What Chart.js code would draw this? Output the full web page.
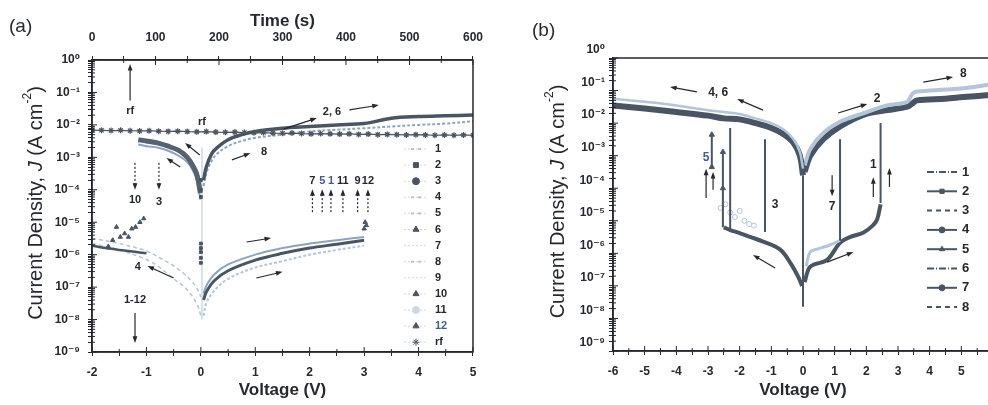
<!DOCTYPE html>
<html lang="en">
<head>
<meta charset="UTF-8">
<title>Current density vs voltage</title>
<script src="https://cdn.jsdelivr.net/npm/chart.js"></script>
<style>
  html, body { margin: 0; padding: 0; background: #fff; }
  #fig { position: relative; width: 988px; height: 405px; overflow: hidden; }
  canvas { position: absolute; top: 0; }
  #cA { left: 0; }
  #cB { left: 494px; }
  .panel { position: absolute; font: 19px "Liberation Sans", Arial, sans-serif; color: #26292f; }
</style>
</head>
<body>
<div id="fig">
  <canvas id="cA" width="494" height="405"></canvas>
  <canvas id="cB" width="520" height="405"></canvas>
  <div class="panel" style="left:9px; top:15px">(a)</div>
  <div class="panel" style="left:532px; top:19px">(b)</div>
</div>
<script>
// ---- axis ticks ----
const yDecades = [-9, -8, -7, -6, -5, -4, -3, -2, -1, 0];
const yMinor = [1, 2, 3, 4, 5, 6, 7, 8, 9];
const aVoltTicks = [-2, -1, 0, 1, 2, 3, 4, 5];
const aTimeTicks = [0, 100, 200, 300, 400, 500, 600];
const bVoltTicks = [-6, -5, -4, -3, -2, -1, 0, 1, 2, 3, 4, 5, 6];

// ---- panel (a): V in volts, J in A/cm2 ----
const aRfTime = [0, 15, 30, 45, 60, 75, 90, 105, 120, 135, 150, 165, 180, 195, 210, 225, 240, 255, 270, 285, 300,
  315, 330, 345, 360, 375, 390, 405, 420, 435, 450, 465, 480, 495, 510, 525, 540, 555, 570, 585, 600];
const aRfJ = [6.9e-3, 6.8e-3, 6.7e-3, 6.8e-3, 6.6e-3, 6.5e-3, 6.6e-3, 6.4e-3, 6.3e-3, 6.4e-3,
  6.2e-3, 6.1e-3, 6.2e-3, 6.0e-3, 5.9e-3, 6.0e-3, 5.8e-3, 5.7e-3, 5.8e-3, 5.6e-3,
  5.5e-3, 5.6e-3, 5.4e-3, 5.3e-3, 5.4e-3, 5.3e-3, 5.2e-3, 5.3e-3, 5.1e-3, 5.2e-3,
  5.0e-3, 5.1e-3, 5.0e-3, 4.9e-3, 5.0e-3, 4.9e-3, 4.8e-3, 4.9e-3, 4.8e-3, 4.9e-3, 4.8e-3];

const aLrsPosV = [0.05, 0.1, 0.2, 0.3, 0.5, 0.75, 1, 1.5, 2, 2.5, 3, 3.5, 4, 4.5, 5];
const aLrsPosJ = [2.0e-4, 5.0e-4, 1.3e-3, 2.0e-3, 3.5e-3, 5.0e-3, 6.3e-3, 7.9e-3, 8.9e-3, 1.0e-2, 1.1e-2, 1.6e-2, 1.8e-2, 1.9e-2, 2.0e-2];
const aLrs8J = [1.3e-4, 3.2e-4, 7.9e-4, 1.3e-3, 2.2e-3, 3.2e-3, 4.0e-3, 5.0e-3, 6.3e-3, 7.1e-3, 7.9e-3, 8.9e-3, 1.0e-2, 1.1e-2, 1.3e-2];

const aLrsNegV = [-1.15, -1.0, -0.8, -0.6, -0.4, -0.25, -0.15, -0.08, -0.04, -0.01];
const aLrsNegJ = [3.5e-3, 3.2e-3, 2.8e-3, 2.2e-3, 1.6e-3, 1.0e-3, 5.6e-4, 3.2e-4, 1.6e-4, 7.9e-5];
const aLrsNegJ2 = [2.5e-3, 2.2e-3, 2.0e-3, 1.6e-3, 1.1e-3, 7.1e-4, 4.0e-4, 2.2e-4, 1.1e-4, 5.0e-5];

const aHrsNegV = [-2, -1.5, -1, -0.75, -0.5, -0.3, -0.15, -0.05, 0];
const aHrsNegUpJ = [3.2e-6, 2.2e-6, 1.3e-6, 7.9e-7, 4.5e-7, 2.5e-7, 1.4e-7, 7.9e-8, 5.0e-8];
const aHrsNegLowJ = [2.2e-6, 1.4e-6, 7.1e-7, 4.0e-7, 1.8e-7, 1.0e-7, 5.0e-8, 2.5e-8, 1.3e-8];
const aHrsNegDarkV = [-2, -1.75, -1.5, -1.25, -1.0];
const aHrsNegDarkJ = [1.9e-6, 1.6e-6, 1.4e-6, 1.25e-6, 1.1e-6];

const aHrsPosV = [0.05, 0.1, 0.25, 0.5, 1, 1.5, 2, 2.5, 3];
const aHrsPosJ = [4.0e-8, 7.1e-8, 1.6e-7, 3.2e-7, 6.8e-7, 1.1e-6, 1.6e-6, 2.1e-6, 2.8e-6];
const aHrsPosUpJ = [6.3e-8, 1.1e-7, 2.5e-7, 5.0e-7, 1.0e-6, 1.6e-6, 2.2e-6, 2.8e-6, 3.5e-6];
const aHrsPosLowJ = [1.3e-8, 3.2e-8, 7.9e-8, 1.8e-7, 4.0e-7, 6.3e-7, 1.0e-6, 1.4e-6, 1.9e-6];

const aDipV = [0, 0, 0, 0, 0, 0, 0, 0];
const aDipJ = [2.0e-4, 1.0e-4, 6.0e-5, 2.2e-6, 1.6e-6, 1.2e-6, 8.0e-7, 5.6e-7];
const aDipLineV = [0.02, 0.02];
const aDipLineJ = [2.0e-3, 1.0e-8];

const aSetV = [-1.7, -1.62, -1.55, -1.48, -1.4, -1.33, -1.27, -1.2, -1.12, -1.05];
const aSetJ = [1.8e-6, 2.8e-6, 7.1e-6, 3.5e-6, 4.5e-6, 3.5e-6, 6.3e-6, 7.1e-6, 1.0e-5, 1.3e-5];
const aResetV = [3.0, 3.02, 3.04];
const aResetJ = [6.3e-6, 1.0e-5, 8.0e-6];

const aLegend = ['1', '2', '3', '4', '5', '6', '7', '8', '9', '10', '11', '12', 'rf'];

// ---- panel (b) ----
const bLrsNegV = [-6, -5, -4, -3, -2.5, -2, -1.5, -1, -0.6, -0.3, -0.1, 0];
const bLrsNegJ = [3.5e-2, 2.8e-2, 2.2e-2, 1.7e-2, 1.4e-2, 1.3e-2, 1.0e-2, 7.1e-3, 4.5e-3, 2.5e-3, 1.0e-3, 2.5e-4];
const bLrsNegJ2 = [5.6e-2, 4.5e-2, 3.5e-2, 2.5e-2, 2.2e-2, 1.9e-2, 1.4e-2, 1.0e-2, 6.3e-3, 3.2e-3, 1.3e-3, 4.0e-4];

const bLrsPosV = [0.05, 0.23, 0.64, 1.17, 1.9, 2.66, 3.29, 3.45, 3.6, 4.5, 5.06, 5.8, 6];
const bLrsPosJ = [3.2e-4, 1.0e-3, 3.2e-3, 7.9e-3, 1.8e-2, 2.5e-2, 3.2e-2, 4.0e-2, 5.0e-2, 5.6e-2, 6.3e-2, 7.2e-2, 7.6e-2];
const bLrsPosJ2 = [5.0e-4, 1.6e-3, 5.0e-3, 1.1e-2, 2.0e-2, 3.5e-2, 4.5e-2, 7.9e-2, 9.3e-2, 0.107, 0.117, 0.148, 0.158];

const bHrsNegV = [-2.5, -2.3, -2, -1.67, -1.26, -0.72, -0.4, -0.15, -0.03];
const bHrsNegJ = [6.3e-6, 5.2e-6, 4.2e-6, 3.2e-6, 2.3e-6, 1.3e-6, 5.1e-7, 1.9e-7, 1.0e-7];
const bHrsPosV = [0.05, 0.23, 0.76, 1.17, 1.5, 1.9, 2.2, 2.34, 2.45];
const bHrsPosJ = [1.3e-7, 3.9e-7, 6.3e-7, 2.1e-6, 3.2e-6, 4.3e-6, 7.1e-6, 1.1e-5, 3.2e-5];
const bHrsPos2V = [0.1, 0.23, 0.5, 0.85, 1.17];
const bHrsPos2J = [4.0e-7, 1.1e-6, 1.4e-6, 1.8e-6, 2.5e-6];
const bHrsNeg2V = [-2.6, -2.45, -2.3, -2.15, -2.0, -1.85, -1.7, -1.55];
const bHrsNeg2J = [2.5e-5, 3.2e-5, 1.8e-5, 1.3e-5, 2.0e-5, 1.0e-5, 7.9e-6, 7.1e-6];

const bJumpV = [-2.88, -2.53, -2.3, -1.2, 0, 1.17, 2.45];
const bJumpHiJ = [5.0e-3, 1.3e-3, 7.1e-3, 3.2e-3, 2.5e-4, 3.2e-3, 1.0e-2];
const bJumpLoJ = [4.0e-4, 6.3e-6, 5.0e-6, 4.5e-6, 2.3e-8, 2.5e-6, 3.5e-5];
const bTriV = [-2.88, -2.88, -2.53, -2.53];
const bTriJ = [4.4e-3, 4.5e-4, 1.3e-3, 1.0e-4];

const bLegend = ['1', '2', '3', '4', '5', '6', '7', '8'];

// ---- look ----
const FONT = '"Liberation Sans", Arial, "DejaVu Sans", sans-serif';
const INK = '#25282f';
const BLUE = '#3d5c97';
const DARK = '#4a5563';
const MID = '#8da3bf';
const LIGHT = '#b3c5da';
const PALE = '#cdd8e5';

Chart.defaults.font.family = FONT;
Chart.defaults.color = INK;
Chart.defaults.animation = false;

const SUP = { '-': '⁻', '0': '⁰', '1': '¹', '2': '²', '3': '³', '4': '⁴', '5': '⁵', '6': '⁶', '7': '⁷', '8': '⁸', '9': '⁹' };
function powLabel(v) {
  const e = Math.round(Math.log10(v));
  if (Math.abs(v / Math.pow(10, e) - 1) > 1e-6) return '';
  return '10' + String(e).split('').map(c => SUP[c]).join('');
}

const pts = (xs, ys) => xs.map((x, i) => ({ x: x, y: ys[i] }));

function curve(data, color, width, extra) {
  return Object.assign({ data: data, borderColor: color, backgroundColor: color, borderWidth: width,
    pointRadius: 0, showLine: true, tension: 0.35 }, extra || {});
}
function marks(data, color, style, r, extra) {
  return Object.assign({ data: data, borderColor: color, backgroundColor: color, pointStyle: style,
    pointRadius: r, borderWidth: 1, showLine: false }, extra || {});
}

function yScale(width, pad, shift) {
  return {
    type: 'logarithmic', min: 1e-9, max: 1,
    afterFit: s => { s.width = width; },
    afterBuildTicks: s => {
      const t = [];
      yDecades.forEach(e => yMinor.forEach(m => {
        const v = m * Math.pow(10, e);
        if (v <= 1.0000001) t.push({ value: v });
      }));
      s.ticks = t;
    },
    ticks: { autoSkip: false, padding: pad, labelOffset: shift, font: { size: 12, weight: 'bold' }, callback: v => powLabel(v) },
    grid: { drawOnChartArea: false, tickLength: 4, color: INK },
    border: { color: INK, width: 1.5 }
  };
}

function xScale(min, max, step, shown, position, height, pad, title, titlePad) {
  return {
    type: 'linear', position: position, min: min, max: max,
    afterFit: s => { s.height = height; },
    ticks: { stepSize: step, autoSkip: false, maxRotation: 0, padding: pad, font: { size: 12, weight: 'bold' },
      callback: v => shown.some(t => Math.abs(t - v) < 1e-9) ? String(v) : '' },
    grid: { drawOnChartArea: false, tickLength: 4, color: INK },
    border: { color: INK, width: 1.5 },
    title: { display: true, text: title, font: { size: 17, weight: 'bold' }, padding: titlePad }
  };
}

// box round the plot
const frame = {
  id: 'frame',
  afterDatasetsDraw(chart) {
    const { ctx, chartArea: a } = chart;
    ctx.save();
    ctx.strokeStyle = INK;
    ctx.lineWidth = 1.5;
    ctx.strokeRect(a.left, a.top, a.right - a.left, a.bottom - a.top);
    ctx.restore();
  }
};

// ticks pointing into the plot as well
const innerTicks = {
  id: 'innerTicks',
  afterDraw(chart) {
    const { ctx, chartArea: a, scales } = chart;
    ctx.save();
    ctx.strokeStyle = INK;
    ctx.lineWidth = 1;
    Object.values(scales).forEach(s => {
      s.ticks.forEach(t => {
        const p = s.getPixelForValue(t.value);
        const len = t.label ? 5 : 3;
        ctx.beginPath();
        if (s.axis === 'y') { ctx.moveTo(a.left, p); ctx.lineTo(a.left + len, p); }
        else if (s.position === 'top') { ctx.moveTo(p, a.top); ctx.lineTo(p, a.top + len); }
        else { ctx.moveTo(p, a.bottom); ctx.lineTo(p, a.bottom - len); }
        ctx.stroke();
      });
    });
    ctx.restore();
  }
};

function arrow(ctx, x1, y1, x2, y2, dotted) {
  const ang = Math.atan2(y2 - y1, x2 - x1);
  ctx.strokeStyle = INK;
  ctx.fillStyle = INK;
  ctx.lineWidth = 1.2;
  ctx.setLineDash(dotted ? [2, 2] : []);
  ctx.beginPath();
  ctx.moveTo(x1, y1);
  ctx.lineTo(x2 - 4 * Math.cos(ang), y2 - 4 * Math.sin(ang));
  ctx.stroke();
  ctx.setLineDash([]);
  ctx.beginPath();
  ctx.moveTo(x2, y2);
  ctx.lineTo(x2 - 7 * Math.cos(ang - 0.35), y2 - 7 * Math.sin(ang - 0.35));
  ctx.lineTo(x2 - 7 * Math.cos(ang + 0.35), y2 - 7 * Math.sin(ang + 0.35));
  ctx.closePath();
  ctx.fill();
}

function marker(ctx, style, x, y, r, color) {
  ctx.fillStyle = color;
  ctx.strokeStyle = color;
  ctx.lineWidth = 1;
  Chart.helpers.drawPoint(ctx, { pointStyle: style, radius: r, borderWidth: 1, rotation: 0 }, x, y);
}

function yTitle(ctx, cx, cy) {
  const parts = [
    { s: 'Current Density, ', f: '20px ' + FONT, dy: 0 },
    { s: 'J', f: 'italic 20px ' + FONT, dy: 0 },
    { s: ' (A cm', f: '20px ' + FONT, dy: 0 },
    { s: '-2', f: '12px ' + FONT, dy: -8 },
    { s: ')', f: '20px ' + FONT, dy: 0 }
  ];
  let total = 0;
  parts.forEach(p => { ctx.font = p.f; p.w = ctx.measureText(p.s).width; total += p.w; });
  ctx.save();
  ctx.translate(cx, cy);
  ctx.rotate(-Math.PI / 2);
  ctx.fillStyle = INK;
  ctx.textAlign = 'left';
  ctx.textBaseline = 'middle';
  let x = -total / 2;
  parts.forEach(p => { ctx.font = p.f; ctx.fillText(p.s, x, p.dy); x += p.w; });
  ctx.restore();
}

// labels, arrows, legend and y title; positions in (V, log10 J)
function makeNotes(texts, arrows, fontSize, titleX, drawLegend) {
  return {
    id: 'notes',
    afterDraw(chart) {
      const { ctx, chartArea: a, scales } = chart;
      const X = v => scales.x.getPixelForValue(v);
      const Y = e => scales.y.getPixelForValue(Math.pow(10, e));
      ctx.save();
      arrows.forEach(r => arrow(ctx, X(r[0]), Y(r[1]), X(r[2]), Y(r[3]), r[4]));
      ctx.font = 'bold ' + fontSize + 'px ' + FONT;
      ctx.textAlign = 'center';
      ctx.textBaseline = 'middle';
      texts.forEach(t => { ctx.fillStyle = t[3] || INK; ctx.fillText(t[0], X(t[1]), Y(t[2])); });
      drawLegend(ctx, a);
      yTitle(ctx, titleX, (a.top + a.bottom) / 2 - 3);
      ctx.restore();
    }
  };
}

const aLegendStyle = [['dash', LIGHT], ['rect', DARK], ['circle', DARK], ['dash', LIGHT], ['dot', LIGHT],
  ['triangle', DARK], ['none', PALE], ['dot', LIGHT], ['none', PALE], ['triangle', DARK], ['circle', PALE],
  ['triangle', DARK], ['star', DARK]];

function legendA(ctx, a) {
  aLegend.forEach((lab, i) => {
    const y = a.top + 89 + i * 16.1;
    const x = a.right - 57;
    const [kind, col] = aLegendStyle[i];
    ctx.strokeStyle = PALE;
    ctx.lineWidth = 1;
    ctx.setLineDash([2, 2]);
    ctx.beginPath(); ctx.moveTo(x - 12, y); ctx.lineTo(x + 12, y); ctx.stroke();
    ctx.setLineDash([]);
    if (kind === 'dash' || kind === 'dot') {
      ctx.fillStyle = col;
      ctx.fillRect(x - 5, y - 1, 3, 2);
      ctx.fillRect(x + 2, y - 1, 3, 2);
    } else if (kind !== 'none') {
      marker(ctx, kind, x, y, 3.5, col);
    }
    ctx.font = 'bold 11px ' + FONT;
    ctx.textAlign = 'left';
    ctx.fillStyle = lab === '12' ? BLUE : INK;
    ctx.fillText(lab, a.right - 38, y);
  });
}

const bLegendStyle = [[[7, 2, 1, 2], null], [[], 'rect'], [[5, 4], null], [[], 'circle'], [[], 'triangle'],
  [[7, 2, 1, 2], null], [[], 'circle'], [[5, 4], null]];

function legendB(ctx, a) {
  bLegend.forEach((lab, i) => {
    const y = a.top + 114 + i * 19.3;
    const x0 = a.left + 314, x1 = a.left + 344;
    const [dash, mk] = bLegendStyle[i];
    ctx.strokeStyle = DARK;
    ctx.lineWidth = 2;
    ctx.setLineDash(dash);
    ctx.beginPath(); ctx.moveTo(x0, y); ctx.lineTo(x1, y); ctx.stroke();
    ctx.setLineDash([]);
    if (mk) marker(ctx, mk, (x0 + x1) / 2, y, 3, DARK);
    ctx.font = 'bold 13px ' + FONT;
    ctx.textAlign = 'left';
    ctx.fillStyle = INK;
    ctx.fillText(lab, a.left + 349, y);
  });
}

// ---- panel (a) notes ----
const aTexts = [['rf', -1.30, -1.58], ['rf', 0.02, -1.91], ['8', 1.16, -2.84], ['2, 6', 2.41, -1.6],
  ['10', -1.21, -4.32], ['3', -0.77, -4.38], ['7', 2.05, -3.73], ['5', 2.23, -3.73, BLUE], ['1', 2.39, -3.73, BLUE],
  ['11', 2.61, -3.73], ['9', 2.88, -3.73], ['12', 3.07, -3.73], ['4', -1.16, -6.38], ['1-12', -1.21, -7.4]];
const aArrows = [[-1.30, -1.25, -1.30, -0.12, 0], [-0.02, -2.93, -0.29, -2.56, 0], [-0.38, -3.30, -0.63, -3.02, 0],
  [0.57, -3.08, 0.91, -2.87, 0], [1.52, -2.13, 2.13, -1.79, 0], [2.73, -1.54, 3.27, -1.39, 0],
  [-1.21, -3.17, -1.21, -4.0, 1], [-0.77, -3.17, -0.77, -4.0, 1],
  [2.05, -4.69, 2.05, -3.98, 1], [2.23, -4.69, 2.23, -3.98, 1], [2.39, -4.69, 2.39, -3.98, 1],
  [2.61, -4.69, 2.61, -3.98, 1], [2.88, -4.69, 2.88, -3.98, 1], [3.07, -4.69, 3.07, -3.98, 1],
  [-0.5, -6.72, -0.98, -6.35, 0], [0.84, -5.61, 1.29, -5.49, 0], [1.02, -6.72, 1.50, -6.53, 0],
  [-1.21, -7.8, -1.21, -8.72, 0]];

// ---- panel (b) notes ----
const bTexts = [['4, 6', -2.68, -1.07], ['2', 2.34, -1.26], ['8', 5.06, -0.49], ['1', 2.22, -3.29],
  ['7', 0.92, -4.58], ['3', -0.88, -4.51], ['5', -3.06, -3.07, BLUE]];
const bArrows = [[-3.35, -1.04, -4.2, -0.89, 0], [-1.26, -1.6, -2.08, -1.26, 0], [1.11, -1.69, 2.03, -1.41, 0],
  [3.8, -0.74, 4.74, -0.58, 0], [2.22, -4.27, 2.22, -3.66, 0], [2.73, -3.96, 2.73, -3.38, 0],
  [0.92, -3.6, 0.92, -4.25, 0], [-3.06, -4.3, -3.06, -3.4, 0], [-2.84, -4.05, -2.84, -3.5, 0],
  [-0.88, -6.45, -1.58, -6.05, 0], [0.76, -6.27, 1.59, -5.96, 0]];

// ---- chart (a) ----
new Chart(document.getElementById('cA'), {
  type: 'scatter',
  data: {
    datasets: [
      marks(pts(aRfTime, aRfJ), '#4d5561', 'star', 3, { xAxisID: 'xTop', showLine: true, borderWidth: 1.2, tension: 0 }),
      marks(pts(aSetV, aSetJ), DARK, 'triangle', 2.5),
      marks(pts(aResetV, aResetJ), DARK, 'triangle', 2.5),
      marks(pts(aDipV, aDipJ), DARK, 'rect', 2),
      curve(pts(aLrsNegV, aLrsNegJ), '#56626f', 5),
      curve(pts(aLrsNegV, aLrsNegJ2), MID, 2),
      curve(pts(aLrsPosV, aLrsPosJ), DARK, 3.5),
      curve(pts(aLrsPosV, aLrs8J), MID, 2, { borderDash: [3, 2] }),
      curve(pts(aHrsPosV, aHrsPosJ), DARK, 3),
      curve(pts(aHrsNegDarkV, aHrsNegDarkJ), DARK, 2.5),
      curve(pts(aHrsPosV, aHrsPosUpJ), MID, 2),
      curve(pts(aHrsPosV, aHrsPosLowJ), LIGHT, 2, { borderDash: [3, 2] }),
      curve(pts(aHrsNegV, aHrsNegUpJ), LIGHT, 1.5, { borderDash: [4, 3] }),
      curve(pts(aHrsNegV, aHrsNegLowJ), LIGHT, 1.5, { borderDash: [4, 3] }),
      curve(pts(aDipLineV, aDipLineJ), PALE, 1.5, { tension: 0 })
    ]
  },
  options: {
    responsive: false,
    devicePixelRatio: 1,
    layout: { padding: { left: 0, right: 10, top: 0, bottom: 0 } },
    plugins: { legend: { display: false }, tooltip: { enabled: false } },
    scales: {
      x: xScale(-2, 5, 0.5, aVoltTicks, 'bottom', 53, 9, 'Voltage (V)', { top: 0, bottom: 4 }),
      xTop: xScale(0, 600, 50, aTimeTicks, 'top', 60, 11, 'Time (s)', { top: 11, bottom: 0 }),
      y: yScale(92, 8, 0)
    }
  },
  plugins: [frame, innerTicks, makeNotes(aTexts, aArrows, 11, 36, legendA)]
});

// ---- chart (b) ----
const bJumps = [];
bJumpV.forEach((v, i) => { bJumps.push({ x: v, y: bJumpHiJ[i] }, { x: v, y: bJumpLoJ[i] }, { x: v, y: null }); });

new Chart(document.getElementById('cB'), {
  type: 'scatter',
  data: {
    datasets: [
      marks(pts(bTriV, bTriJ), DARK, 'triangle', 3),
      curve(bJumps, DARK, 2, { tension: 0, spanGaps: false }),
      curve(pts(bLrsNegV, bLrsNegJ2), LIGHT, 2.5),
      curve(pts(bLrsNegV, bLrsNegJ), DARK, 6),
      curve(pts(bLrsPosV, bLrsPosJ2), LIGHT, 4),
      curve(pts(bLrsPosV, bLrsPosJ), DARK, 6),
      curve(pts(bHrsPos2V, bHrsPos2J), LIGHT, 3),
      curve(pts(bHrsNegV, bHrsNegJ), DARK, 4),
      curve(pts(bHrsPosV, bHrsPosJ), DARK, 4),
      marks(pts(bHrsNeg2V, bHrsNeg2J), LIGHT, 'circle', 2.5, { backgroundColor: '#fff' })
    ]
  },
  options: {
    responsive: false,
    devicePixelRatio: 1,
    layout: { padding: { left: 0, right: 21, top: 58, bottom: 0 } },
    plugins: { legend: { display: false }, tooltip: { enabled: false } },
    scales: {
      x: xScale(-6, 6, 0.5, bVoltTicks, 'bottom', 54, 9, 'Voltage (V)', { top: 0, bottom: 4 }),
      y: yScale(119, 4, -8)
    }
  },
  plugins: [frame, innerTicks, makeNotes(bTexts, bArrows, 12, 64, legendB)]
});
</script>
</body>
</html>
